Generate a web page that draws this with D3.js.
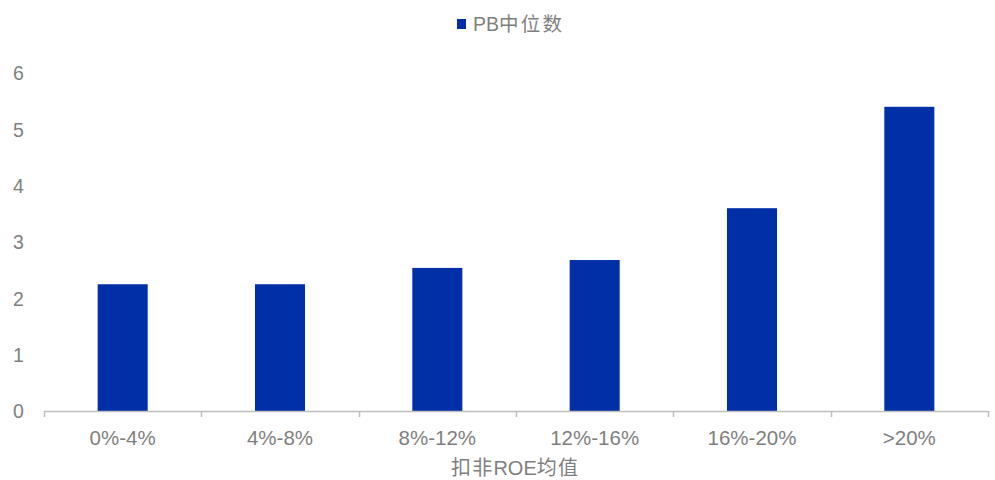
<!DOCTYPE html>
<html>
<head>
<meta charset="utf-8">
<script src="https://cdn.jsdelivr.net/npm/d3@7"></script>
<style>
  html, body { margin: 0; padding: 0; background: #fff; }
  svg { display: block; }
</style>
</head>
<body>
<svg id="chart" width="995" height="480"></svg>
<script>
// ROE buckets and the median PB in each bucket
const categories = ["0%-4%", "4%-8%", "8%-12%", "12%-16%", "16%-20%", ">20%"];
const pbMedian = [2.25, 2.25, 2.54, 2.68, 3.60, 5.40];
const yTicks = [0, 1, 2, 3, 4, 5, 6];
const seriesName = "PB中位数";
const xTitle = "扣非ROE均值";

const svg = d3.select("#chart");
const margin = { left: 44, right: 7, top: 73, bottom: 69 };
const W = 995, H = 480;
const barColor = "#002FA7";
const textColor = "#7f7f7f";
const latin = "'Liberation Sans', Arial, sans-serif";
const mixed = "'Liberation Sans', 'Noto Sans CJK SC', sans-serif";

// split a label into Latin and CJK runs so the CJK glyphs can be spaced wider
function addRuns(textSel, str, cjkSpacing) {
  const runs = str.match(/[\u4e00-\u9fff]+|[^\u4e00-\u9fff]+/g) || [];
  runs.forEach(r => {
    const isCjk = /[\u4e00-\u9fff]/.test(r);
    textSel.append("tspan")
      .attr("letter-spacing", isCjk ? cjkSpacing : 0)
      .text(r);
  });
}

const x = d3.scaleBand()
  .domain(categories)
  .range([margin.left, W - margin.right])
  .paddingInner(0.682)
  .paddingOuter(0.341);

const y = d3.scaleLinear()
  .domain([0, 6])
  .range([H - margin.bottom, margin.top]);

// bars
svg.append("g")
  .selectAll("rect")
  .data(categories)
  .join("rect")
  .attr("x", d => x(d))
  .attr("width", x.bandwidth())
  .attr("y", (d, i) => y(pbMedian[i]))
  .attr("height", (d, i) => y(0) - y(pbMedian[i]))
  .attr("fill", barColor);

// x axis with tick marks on category boundaries
const step = x.step();
const x0 = margin.left;
const boundaries = d3.range(categories.length + 1).map(i => x0 + i * step);
const axisG = svg.append("g");
axisG.append("line")
  .attr("x1", boundaries[0]).attr("x2", boundaries[boundaries.length - 1])
  .attr("y1", y(0) + 0.5).attr("y2", y(0) + 0.5)
  .attr("stroke", "#bfbfbf").attr("stroke-width", 1.5);
axisG.selectAll("line.tick")
  .data(boundaries)
  .join("line")
  .attr("class", "tick")
  .attr("x1", d => Math.round(d) + 0.5).attr("x2", d => Math.round(d) + 0.5)
  .attr("y1", y(0)).attr("y2", y(0) + 6)
  .attr("stroke", "#bfbfbf").attr("stroke-width", 1.5);

axisG.selectAll("text.cat")
  .data(categories)
  .join("text")
  .attr("class", "cat")
  .attr("x", d => x(d) + x.bandwidth() / 2)
  .attr("y", 445)
  .attr("text-anchor", "middle")
  .attr("font-family", latin)
  .attr("font-size", 20.5)
  .attr("fill", textColor)
  .text(d => d);

// y axis labels (no axis line)
const yAxis = d3.axisLeft(y).tickValues(yTicks).tickFormat(d3.format("d")).tickSize(0).tickPadding(0);
const yG = svg.append("g")
  .attr("transform", "translate(18.5,0)")
  .call(yAxis);
yG.select(".domain").remove();
yG.selectAll("text")
  .attr("font-family", latin)
  .attr("font-size", 19.5)
  .attr("fill", textColor)
  .attr("text-anchor", "middle")
  .attr("x", 0)
  .attr("dy", "0.35em");

// x axis title
const title = svg.append("text")
  .attr("x", 451)
  .attr("y", 475)
  .attr("font-family", mixed)
  .attr("font-size", 20)
  .attr("fill", textColor);
addRuns(title, xTitle, 1.2);

// legend
const legend = svg.append("g").attr("transform", "translate(457,19)");
legend.append("rect")
  .attr("width", 9).attr("height", 10)
  .attr("fill", barColor);
const legendText = legend.append("text")
  .attr("x", 16)
  .attr("y", 12)
  .attr("font-family", mixed)
  .attr("font-size", 19.5)
  .attr("fill", textColor);
addRuns(legendText, seriesName, 2.2);
</script>
</body>
</html>
